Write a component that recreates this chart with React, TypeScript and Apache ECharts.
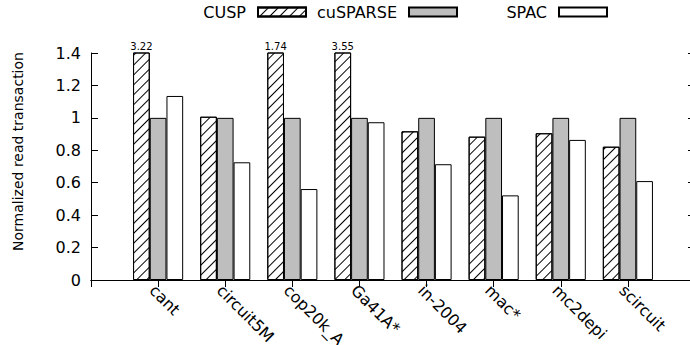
import React, { useEffect, useRef } from "react";
import * as echarts from "echarts";

const categories = ["cant", "circuit5M", "cop20k_A", "Ga41A*", "in-2004", "mac*", "mc2depi", "scircuit"];
const cuspValues = [3.22, 1.007, 1.74, 3.55, 0.917, 0.884, 0.905, 0.822];
const cusparseValues = [1, 1, 1, 1, 1, 1, 1, 1];
const spacValues = [1.135, 0.726, 0.561, 0.973, 0.714, 0.522, 0.864, 0.61];
const yTicks = [0, 0.2, 0.4, 0.6, 0.8, 1, 1.2, 1.4];

const FONT = "DejaVu Sans";

export default function App() {
  const ref = useRef<HTMLDivElement>(null);
  useEffect(() => {
    const chart = echarts.init(ref.current!, null, { renderer: "svg" });
    const cats = ["", ...categories, ""];
    const pad = (arr: number[]) => ["-", ...arr, "-"];
    const yMax = yTicks[yTicks.length - 1];
    const barBase = {
      type: "bar" as const,
      barWidth: 16.7,
      barGap: "0%",
      clip: true,
    };
    const legendItem = (name: string, right: number) => ({
      data: [name],
      right,
      top: 4,
      padding: 0,
      align: "right",
      icon: "rect",
      itemWidth: 48,
      itemHeight: 9,
      selectedMode: false,
      textStyle: { fontSize: 16, color: "#000", fontFamily: FONT, padding: [0, 7, 0, 0] },
    });
    chart.setOption({
      animation: false,
      textStyle: { fontFamily: FONT },
      legend: [legendItem("CUSP", 383), legendItem("cuSPARSE", 232), legendItem("SPAC", 82)],
      grid: { left: 91, right: -5, top: 53, bottom: 65, containLabel: false, outerBoundsMode: "none" },
      xAxis: [
        {
          type: "category",
          data: cats,
          boundaryGap: false,
          position: "bottom",
          axisLine: { show: true, lineStyle: { color: "#000", width: 1 } },
          axisTick: { show: false },
          axisLabel: {
            rotate: -45,
            interval: 0,
            fontSize: 16,
            color: "#000",
            fontFamily: FONT,
            margin: 2,
            verticalAlign: "top",
          },
        },
        {
          type: "category",
          data: cats,
          boundaryGap: false,
          position: "top",
          axisLine: { show: true, lineStyle: { color: "#000", width: 1 } },
          axisTick: { show: true, inside: true, length: 7, interval: 0, lineStyle: { color: "#000" } },
          axisLabel: { show: false },
        },
      ],
      yAxis: [
        {
          type: "value",
          min: 0,
          max: yMax,
          interval: 0.2,
          position: "left",
          axisLine: { show: true, lineStyle: { color: "#000", width: 1 } },
          axisTick: { show: true, inside: true, length: 7, lineStyle: { color: "#000" } },
          axisLabel: { fontSize: 16, color: "#000", fontFamily: FONT, margin: 10 },
          splitLine: { show: false },
          name: "Normalized read transaction",
          nameLocation: "middle",
          nameGap: 66,
          nameTextStyle: { fontSize: 14, color: "#000", fontFamily: FONT, padding: [0, 0, 0, 30] },
        },
        {
          type: "value",
          min: 0,
          max: yMax,
          interval: 0.2,
          position: "right",
          axisLine: { show: true, lineStyle: { color: "#000", width: 1 } },
          axisTick: { show: true, inside: true, length: 7, lineStyle: { color: "#000" } },
          axisLabel: { show: false },
          splitLine: { show: false },
        },
      ],
      series: [
        {
          ...barBase,
          name: "CUSP",
          data: pad(cuspValues),
          itemStyle: {
            color: "#fff",
            borderColor: "#000",
            borderWidth: 1,
            decal: {
              symbol: "rect",
              symbolSize: 1,
              color: "#000",
              backgroundColor: "rgba(0,0,0,0)",
              dashArrayX: [1, 0],
              dashArrayY: [1, 6],
              rotation: -Math.PI / 4,
            },
          },
          label: {
            show: true,
            position: "top",
            distance: 1,
            fontSize: 10,
            color: "#000",
            fontFamily: FONT,
            formatter: (p: any) => (typeof p.value === "number" && p.value > yMax ? p.value.toFixed(2) : ""),
          },
        },
        {
          ...barBase,
          name: "cuSPARSE",
          data: pad(cusparseValues),
          itemStyle: { color: "#bebebe", borderColor: "#000", borderWidth: 1 },
        },
        {
          ...barBase,
          name: "SPAC",
          data: pad(spacValues),
          itemStyle: { color: "#fff", borderColor: "#000", borderWidth: 1 },
        },
      ],
    });
    return () => chart.dispose();
  }, []);
  return (
    <div
      ref={ref}
      style={{ position: "absolute", left: 0, top: 0, width: 690, height: 345, background: "#fff" }}
    />
  );
}
